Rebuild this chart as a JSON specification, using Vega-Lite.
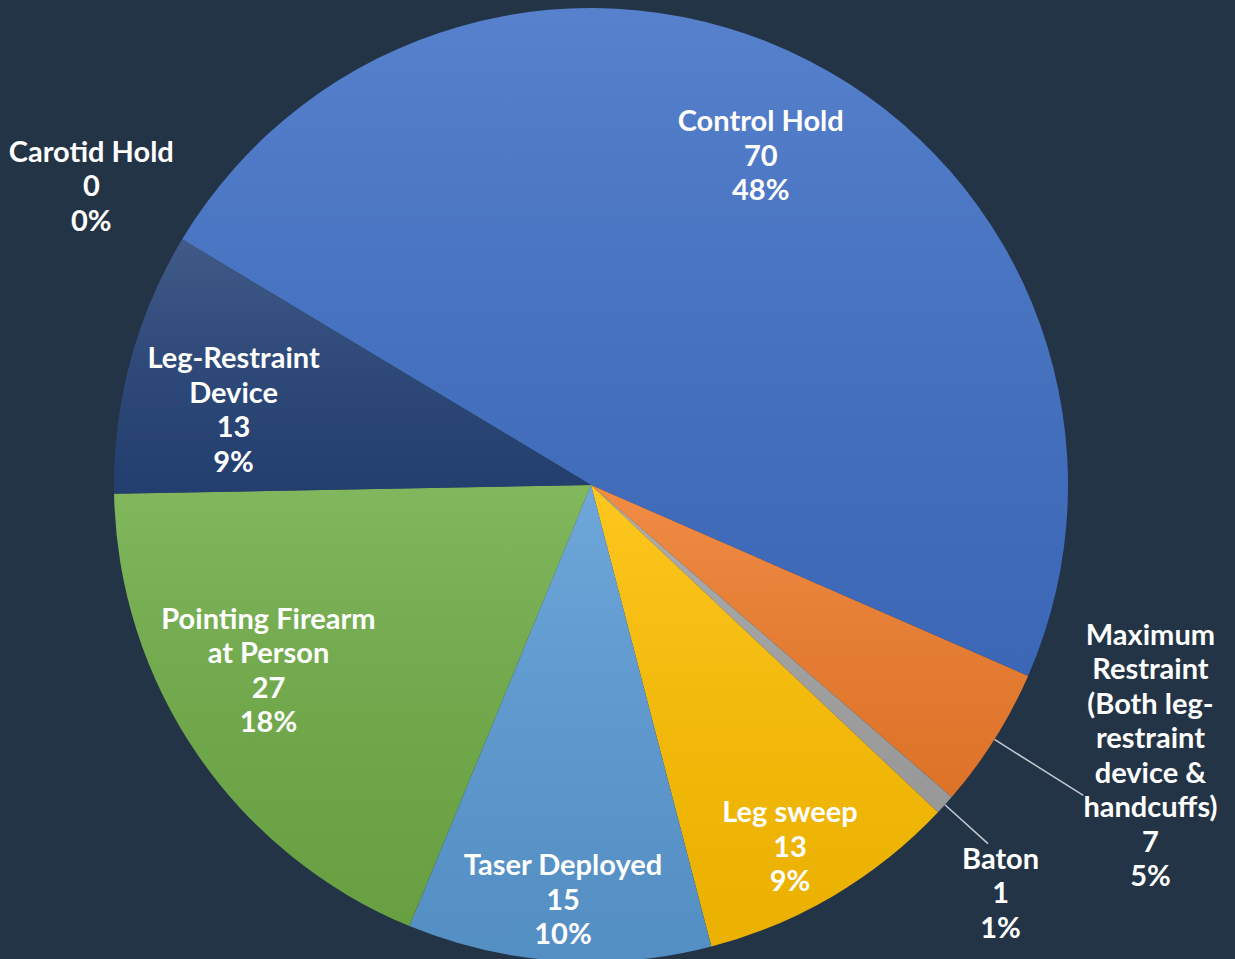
{
  "$schema": "https://vega.github.io/schema/vega-lite/v6.json",
  "width": 1182,
  "height": 970,
  "autosize": {"type": "none"},
  "padding": {"left": 0, "top": 0, "right": 53, "bottom": 0},
  "background": "#243447",
  "config": {"view": {"stroke": null}, "text": {"font": "Lato", "fontWeight": "bold", "fontSize": 29, "lineHeight": 34.5, "lineBreak": "\n", "color": "white", "align": "center", "baseline": "middle"}},
  "data": {
    "values": [
      {"ord": 1, "category": "Control Hold", "label": "Control Hold", "value": 70},
      {"ord": 2, "category": "Maximum Restraint", "label": "Maximum\nRestraint\n(Both leg-\nrestraint\ndevice &\nhandcuffs)", "value": 7},
      {"ord": 3, "category": "Baton", "label": "Baton", "value": 1},
      {"ord": 4, "category": "Leg sweep", "label": "Leg sweep", "value": 13},
      {"ord": 5, "category": "Taser Deployed", "label": "Taser Deployed", "value": 15},
      {"ord": 6, "category": "Pointing Firearm at Person", "label": "Pointing Firearm\nat Person", "value": 27},
      {"ord": 7, "category": "Leg-Restraint Device", "label": "Leg-Restraint\nDevice", "value": 13},
      {"ord": 8, "category": "Carotid Hold", "label": "Carotid Hold", "value": 0}
    ]
  },
  "transform": [
    {"stack": "value", "groupby": [], "sort": [{"field": "ord"}], "offset": "normalize", "as": ["s0", "s1"]},
    {"calculate": "(datum.s0 + datum.s1) / 2", "as": "mid"},
    {"calculate": "datum.label + '\\n' + datum.value + '\\n' + format(datum.s1 - datum.s0, '.0%')", "as": "txt"}
  ],
  "encoding": {
    "text": {"field": "txt"}
  },
  "layer": [
    {
      "mark": {"type": "arc", "outerRadius": 477, "strokeWidth": 0},
      "encoding": {
        "theta": {"field": "s0", "type": "quantitative", "scale": {"type": "linear", "domain": [0, 1], "range": [-1.0297, 5.2535]}},
        "theta2": {"field": "s1"},
        "color": {
          "field": "category",
          "type": "nominal",
          "legend": null,
          "scale": {
            "domain": ["Control Hold", "Maximum Restraint", "Baton", "Leg sweep", "Taser Deployed", "Pointing Firearm at Person", "Leg-Restraint Device", "Carotid Hold"],
            "range": ["#4070C6", "#F07D2C", "#A5A5A5", "#FFC000", "#5B9BD5", "#70AD47", "#264478", "#9E480E"]
          }
        },
        "text": null
      }
    },
    {
      "mark": {
        "type": "arc",
        "outerRadius": 477,
        "strokeWidth": 0,
        "fill": {
          "gradient": "linear", "x1": 0, "y1": 0, "x2": 0, "y2": 1,
          "stops": [
            {"offset": 0, "color": "rgba(255,255,255,0.12)"},
            {"offset": 1, "color": "rgba(0,0,0,0.08)"}
          ]
        }
      },
      "encoding": {
        "theta": {"field": "s0", "type": "quantitative", "scale": {"type": "linear", "domain": [0, 1], "range": [-1.0297, 5.2535]}},
        "theta2": {"field": "s1"},
        "text": null
      }
    },
    {
      "transform": [{"filter": "datum.category == 'Maximum Restraint'"}],
      "mark": {"type": "arc", "innerRadius": 477, "outerRadius": 582, "fillOpacity": 0, "stroke": "#C3C9D0", "strokeWidth": 1.5},
      "encoding": {
        "theta": {"field": "mid", "type": "quantitative", "scale": {"type": "linear", "domain": [0, 1], "range": [-1.0297, 5.2535]}},
        "theta2": {"field": "mid"},
        "text": null
      }
    },
    {
      "transform": [{"filter": "datum.category == 'Baton'"}],
      "mark": {"type": "arc", "innerRadius": 477, "outerRadius": 535, "fillOpacity": 0, "stroke": "#C3C9D0", "strokeWidth": 1.5},
      "encoding": {
        "theta": {"field": "mid", "type": "quantitative", "scale": {"type": "linear", "domain": [0, 1], "range": [-1.0297, 5.2535]}},
        "theta2": {"field": "mid"},
        "text": null
      }
    },
    {
      "transform": [{"filter": "datum.category == 'Control Hold'"}],
      "mark": {"type": "text", "radius": 370, "dy": -34},
      "encoding": {"theta": {"field": "mid", "type": "quantitative", "stack": null, "scale": {"type": "linear", "domain": [0, 1], "range": [-1.0297, 5.2535]}}}
    },
    {
      "transform": [{"filter": "datum.category == 'Leg-Restraint Device'"}],
      "mark": {"type": "text", "radius": 370, "dy": -30},
      "encoding": {"theta": {"field": "mid", "type": "quantitative", "stack": null, "scale": {"type": "linear", "domain": [0, 1], "range": [-1.0297, 5.2535]}}}
    },
    {
      "transform": [{"filter": "datum.category == 'Pointing Firearm at Person'"}],
      "mark": {"type": "text", "radius": 370, "dx": -17, "dy": -74},
      "encoding": {"theta": {"field": "mid", "type": "quantitative", "stack": null, "scale": {"type": "linear", "domain": [0, 1], "range": [-1.0297, 5.2535]}}}
    },
    {
      "transform": [{"filter": "datum.category == 'Taser Deployed'"}],
      "mark": {"type": "text", "radius": 414, "dy": -32},
      "encoding": {"theta": {"field": "mid", "type": "quantitative", "stack": null, "scale": {"type": "linear", "domain": [0, 1], "range": [-1.0297, 5.2535]}}}
    },
    {
      "transform": [{"filter": "datum.category == 'Leg sweep'"}],
      "mark": {"type": "text", "radius": 414, "dx": -12, "dy": -28},
      "encoding": {"theta": {"field": "mid", "type": "quantitative", "stack": null, "scale": {"type": "linear", "domain": [0, 1], "range": [-1.0297, 5.2535]}}}
    },
    {
      "transform": [{"filter": "datum.category == 'Carotid Hold'"}],
      "mark": {"type": "text", "radius": 583, "dy": -32},
      "encoding": {"theta": {"field": "mid", "type": "quantitative", "stack": null, "scale": {"type": "linear", "domain": [0, 1], "range": [-1.0297, 5.2535]}}}
    },
    {
      "transform": [{"filter": "datum.category == 'Baton'"}],
      "mark": {"type": "text", "radius": 583, "dx": -23, "dy": -16},
      "encoding": {"theta": {"field": "mid", "type": "quantitative", "stack": null, "scale": {"type": "linear", "domain": [0, 1], "range": [-1.0297, 5.2535]}}}
    },
    {
      "transform": [{"filter": "datum.category == 'Maximum Restraint'"}],
      "mark": {"type": "text", "radius": 620, "dx": 35, "dy": -180},
      "encoding": {"theta": {"field": "mid", "type": "quantitative", "stack": null, "scale": {"type": "linear", "domain": [0, 1], "range": [-1.0297, 5.2535]}}}
    }
  ]
}
